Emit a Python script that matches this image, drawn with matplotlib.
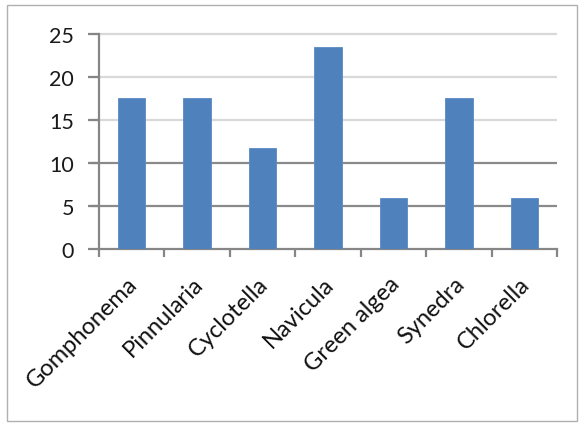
import matplotlib
matplotlib.use("Agg")
import matplotlib.pyplot as plt
from matplotlib.patches import Rectangle
from matplotlib.transforms import ScaledTranslation

categories = ["Gomphonema", "Pinnularia", "Cyclotella", "Navicula",
              "Green algea", "Synedra", "Chlorella"]
values = [17.6, 17.6, 11.8, 23.5, 5.9, 17.6, 5.9]
y_ticks = [0, 5, 10, 15, 20, 25]

plt.rcParams["font.family"] = ["Lato", "DejaVu Sans"]

fig = plt.figure(figsize=(5.8, 4.27), dpi=100)
fig.patch.set_facecolor("white")

# chart area frame
fig.patches.append(Rectangle((7 / 580, 5 / 427), 570 / 580, 416 / 427,
                             transform=fig.transFigure, fill=False,
                             edgecolor="#b0b0b0", linewidth=1.0))

ax = fig.add_axes([99 / 580, 1 - 250 / 427, 458 / 580, 215 / 427])
x = list(range(len(categories)))
ax.set_xlim(-0.5, len(categories) - 0.5)
ax.set_ylim(0, 25)

# gridlines, extended left past the axis as tick marks
grid_colors = {0: "#868686", 5: "#8a8a8a", 10: "#8a8a8a",
               15: "#d9d9d9", 20: "#d9d9d9", 25: "#d9d9d9"}
for yv in y_ticks[1:]:
    ax.hlines(yv, -8 / 458, 1, transform=ax.get_yaxis_transform(),
              colors=grid_colors[yv], linewidth=1.6, clip_on=False, zorder=1)

ax.bar(x, values, width=0.42, color="#4f81bd", edgecolor="#5a8ac4",
       linewidth=0.6, zorder=3)

for s in ["top", "right"]:
    ax.spines[s].set_visible(False)
ax.spines["left"].set_color("#868686")
ax.spines["left"].set_linewidth(1.6)
ax.spines["bottom"].set_color("#868686")
ax.spines["bottom"].set_linewidth(1.6)

ax.set_yticks(y_ticks)
ax.set_yticklabels([str(v) for v in y_ticks], fontsize=15.5, color="#1a1a1a")
ax.tick_params(axis="y", length=8, color="#868686", width=1.6, pad=10)

ax.set_xticks(x)
ax.set_xticklabels(categories, rotation=45, ha="right", va="top",
                   rotation_mode="anchor", fontsize=17, color="#111111")
ax.tick_params(axis="x", which="major", length=0, pad=17)
shift = ScaledTranslation(-5 / 100, 0, fig.dpi_scale_trans)
for lbl in ax.get_xticklabels():
    lbl.set_transform(lbl.get_transform() + shift)

# category boundary ticks below the axis
ax.set_xticks([i - 0.5 for i in range(len(categories) + 1)], minor=True)
ax.tick_params(axis="x", which="minor", length=6, color="#868686", width=1.6)
for i, t in enumerate(ax.xaxis.get_minor_ticks()):
    if i >= 5:
        t.tick1line.set_color("#dcdcdc")

fig.savefig("out.png", dpi=100, facecolor="white")
